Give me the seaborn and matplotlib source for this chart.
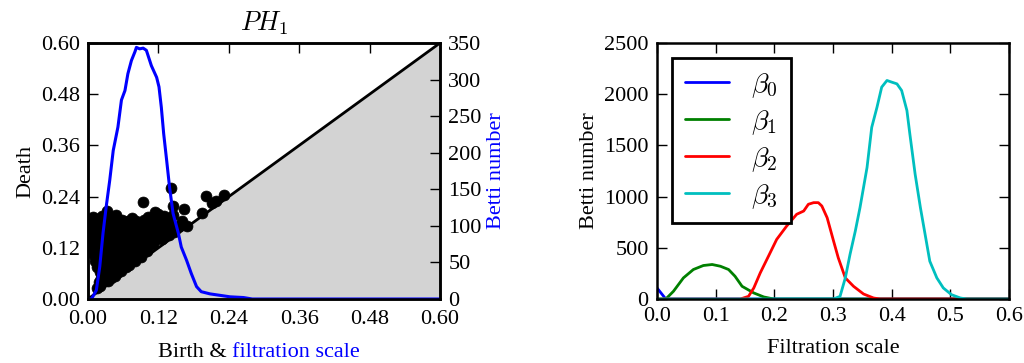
import numpy as np
import pandas as pd
import matplotlib
matplotlib.use("Agg")
import matplotlib.pyplot as plt
import seaborn as sns

# ---------------- data ----------------
# PH1 persistence diagram (birth, death)
births = [0.008, 0.016, 0.024, 0.033, 0.040, 0.048, 0.058, 0.068, 0.075, 0.082, 0.093, 0.095, 0.102, 0.114, 0.108,
          0.004, 0.011, 0.019, 0.028, 0.037, 0.046, 0.055, 0.064, 0.073, 0.087, 0.098, 0.118, 0.126, 0.130, 0.140,
          0.003, 0.010, 0.020, 0.030, 0.041, 0.051, 0.061, 0.070, 0.080, 0.091, 0.101, 0.112, 0.122, 0.134, 0.146, 0.155, 0.161, 0.168,
          0.141, 0.145, 0.145, 0.163, 0.195, 0.2006, 0.211, 0.219, 0.232, 0.130, 0.120,
          0.004, 0.013, 0.023, 0.033, 0.043, 0.053, 0.064, 0.075, 0.086, 0.097, 0.107, 0.118, 0.128, 0.138, 0.147,
          0.005, 0.012, 0.021, 0.030, 0.040, 0.050, 0.060, 0.071, 0.082, 0.093, 0.104, 0.115, 0.126,
          0.006, 0.015, 0.025, 0.035, 0.045, 0.056, 0.066, 0.077, 0.088, 0.099, 0.111,
          0.008, 0.018, 0.028, 0.038, 0.048, 0.058, 0.069, 0.080, 0.091, 0.101,
          0.010, 0.020, 0.030, 0.040, 0.050, 0.060, 0.071, 0.082, 0.090,
          0.012, 0.022, 0.032, 0.042, 0.052, 0.062, 0.072, 0.080,
          0.016, 0.026, 0.036, 0.046, 0.056, 0.065, 0.070,
          0.020, 0.030, 0.040, 0.049, 0.057,
          0.022, 0.031, 0.040, 0.046,
          0.018, 0.028, 0.034,
          0.020, 0.016]
deaths = [0.192, 0.188, 0.195, 0.207, 0.185, 0.198, 0.186, 0.183, 0.190, 0.183, 0.227, 0.186, 0.192, 0.205, 0.180,
          0.178, 0.181, 0.176, 0.182, 0.177, 0.180, 0.175, 0.179, 0.174, 0.178, 0.176, 0.182, 0.178, 0.183, 0.176,
          0.166, 0.163, 0.168, 0.162, 0.167, 0.164, 0.168, 0.163, 0.167, 0.164, 0.168, 0.165, 0.167, 0.163, 0.168, 0.172, 0.183, 0.171,
          0.260, 0.217, 0.197, 0.211, 0.201, 0.242, 0.226, 0.230, 0.243, 0.195, 0.200,
          0.152, 0.150, 0.154, 0.149, 0.153, 0.150, 0.154, 0.150, 0.153, 0.149, 0.152, 0.150, 0.154, 0.150, 0.156,
          0.140, 0.137, 0.141, 0.138, 0.142, 0.137, 0.141, 0.138, 0.142, 0.138, 0.141, 0.138, 0.141,
          0.127, 0.124, 0.128, 0.125, 0.129, 0.125, 0.128, 0.124, 0.128, 0.125, 0.129,
          0.114, 0.116, 0.112, 0.116, 0.113, 0.117, 0.113, 0.116, 0.112, 0.112,
          0.102, 0.099, 0.103, 0.100, 0.104, 0.100, 0.103, 0.099, 0.098,
          0.088, 0.085, 0.089, 0.086, 0.090, 0.086, 0.088, 0.090,
          0.076, 0.073, 0.077, 0.074, 0.077, 0.074, 0.079,
          0.063, 0.060, 0.064, 0.061, 0.066,
          0.050, 0.052, 0.050, 0.055,
          0.040, 0.042, 0.043,
          0.030, 0.026]

# Betti-1 curve (left panel, right axis)
b1_scale = [0.0, 0.006, 0.0142, 0.020, 0.0256, 0.031, 0.037, 0.043, 0.051, 0.057, 0.063, 0.068, 0.074, 0.080, 0.0825,
            0.088, 0.094, 0.0995, 0.108, 0.117, 0.121, 0.125, 0.129, 0.134, 0.139, 0.145, 0.154, 0.159, 0.168,
            0.176, 0.185, 0.193, 0.208, 0.225, 0.242, 0.265, 0.28, 0.6]
b1_count = [0, 0, 12, 44, 90, 126, 162, 203, 235, 272, 285, 308, 326, 338, 344,
            342, 343, 340, 319, 303, 290, 262, 226, 190, 153, 117, 90, 71, 53,
            35, 17, 10, 7, 5, 3, 2, 0, 0]

# Betti curves (right panel)
beta0_x = [0.0, 0.015, 0.6]
beta0_y = [108, 0, 0]
beta1_x = [0.0, 0.015, 0.028, 0.045, 0.062, 0.079, 0.094, 0.108, 0.122, 0.133, 0.145, 0.165, 0.182, 0.199, 0.6]
beta1_y = [0, 0, 75, 206, 288, 327, 337, 320, 288, 222, 124, 59, 20, 0, 0]
beta2_x = [0.0, 0.142, 0.156, 0.165, 0.176, 0.190, 0.204, 0.221, 0.238, 0.250, 0.258, 0.267, 0.275, 0.281,
           0.290, 0.301, 0.309, 0.315, 0.321, 0.335, 0.352, 0.369, 0.380, 0.6]
beta2_y = [0, 0, 26, 108, 255, 418, 582, 712, 827, 859, 925, 941, 941, 908,
           794, 565, 402, 304, 206, 124, 49, 10, 0, 0]
beta3_x = [0.0, 0.301, 0.312, 0.321, 0.329, 0.338, 0.346, 0.358, 0.366, 0.375, 0.383, 0.392, 0.400, 0.409,
           0.417, 0.426, 0.431, 0.440, 0.449, 0.457, 0.465, 0.477, 0.488, 0.502, 0.517, 0.528, 0.6]
beta3_y = [0, 0, 26, 206, 435, 663, 892, 1284, 1676, 1873, 2069, 2134, 2118, 2101,
           2036, 1840, 1611, 1219, 892, 631, 369, 206, 108, 42, 10, 0, 0]
series_labels = [r"$\beta_0$", r"$\beta_1$", r"$\beta_2$", r"$\beta_3$"]
series_colors = ["#0000ff", "#008000", "#ff0000", "#00bfbf"]

left_xticks = [0.0, 0.12, 0.24, 0.36, 0.48, 0.60]
twin_yticks = [0, 50, 100, 150, 200, 250, 300, 350]
right_xticks = [0.0, 0.1, 0.2, 0.3, 0.4, 0.5, 0.6]
right_yticks = [0, 500, 1000, 1500, 2000, 2500]

# ---------------- style ----------------
sns.set_theme(style="ticks")
FS = 16
plt.rcParams.update({
    "font.family": ["Liberation Serif", "DejaVu Serif"],
    "mathtext.fontset": "cm",
    "font.size": FS,
    "axes.linewidth": 1.8,
    "xtick.direction": "in",
    "ytick.direction": "in",
    "xtick.major.size": 7,
    "ytick.major.size": 7,
    "xtick.major.width": 1.0,
    "ytick.major.width": 1.0,
    "xtick.major.pad": 6,
    "ytick.major.pad": 6,
    "xtick.labelsize": FS,
    "ytick.labelsize": FS,
    "axes.edgecolor": "black",
    "axes.labelcolor": "black",
    "text.color": "black",
    "xtick.color": "black",
    "ytick.color": "black",
})

fig = plt.figure(figsize=(10.24, 3.63), dpi=100)
axL = fig.add_axes([88 / 1024, 1 - 299 / 363, 352 / 1024, 256 / 363])
axR = fig.add_axes([657 / 1024, 1 - 299 / 363, 352 / 1024, 256 / 363])

# ---- left panel ----
diag = np.array([0.0, 0.6])
axL.fill_between(diag, 0, diag, color="#d3d3d3", zorder=1, linewidth=0)
axL.plot(diag, diag, color="black", lw=2.0, zorder=2)
sns.scatterplot(x=births, y=deaths, ax=axL, color="black", s=62, edgecolor="black",
                linewidth=0.5, zorder=3, legend=False)
axL.set_xlim(0, 0.6)
axL.set_ylim(0, 0.6)
axL.set_xticks(left_xticks)
axL.set_yticks(left_xticks)
axL.xaxis.set_major_formatter(matplotlib.ticker.FormatStrFormatter("%.2f"))
axL.yaxis.set_major_formatter(matplotlib.ticker.FormatStrFormatter("%.2f"))
axL.tick_params(top=True, right=False)
axL.tick_params(axis="x", pad=8)
axL.set_ylabel("Death", fontsize=FS, labelpad=4)
axL.set_xlabel("")
axL.set_title(r"$PH_1$", fontsize=19, pad=9)
axL.text(0.41, -0.225, "Birth & ", transform=axL.transAxes, ha="right", va="baseline", fontsize=FS, color="black")
axL.text(0.41, -0.225, "filtration scale", transform=axL.transAxes, ha="left", va="baseline", fontsize=FS, color="#0000ff")

axT = axL.twinx()
sns.lineplot(x=b1_scale, y=b1_count, ax=axT, color="#0000ff", lw=2.2, estimator=None, sort=False)
axT.set_ylim(0, 350)
axT.set_xlim(0, 0.6)
axT.set_yticks(twin_yticks)
axT.tick_params(right=True, left=False, direction="in")
axT.set_ylabel("Betti number", color="#0000ff", fontsize=FS, labelpad=4)
for s in axT.spines.values():
    s.set_linewidth(1.8)

# ---- right panel ----
rows = []
for lab, xs, ys in zip(series_labels, [beta0_x, beta1_x, beta2_x, beta3_x],
                       [beta0_y, beta1_y, beta2_y, beta3_y]):
    for xv, yv in zip(xs, ys):
        rows.append({"scale": xv, "count": yv, "series": lab})
df = pd.DataFrame(rows)
sns.lineplot(data=df, x="scale", y="count", hue="series", palette=series_colors,
             ax=axR, lw=2.0, estimator=None, sort=False)
axR.set_xlim(0, 0.6)
axR.set_ylim(0, 2500)
axR.set_xticks(right_xticks)
axR.set_yticks(right_yticks)
axR.xaxis.set_major_formatter(matplotlib.ticker.FormatStrFormatter("%.1f"))
axR.tick_params(top=True, right=True)
axR.set_xlabel("Filtration scale", fontsize=FS, labelpad=9)
axR.set_ylabel("Betti number", fontsize=FS, labelpad=4)
leg = axR.legend(loc="upper left", fontsize=20, frameon=True, fancybox=False, framealpha=1.0,
                 handlelength=1.6, handletextpad=0.8, labelspacing=0.3,
                 borderaxespad=0.55, borderpad=0.45)
leg.get_frame().set_edgecolor("black")
leg.get_frame().set_linewidth(2.0)
for line in leg.get_lines():
    line.set_linewidth(2.0)

fig.savefig("out.png", dpi=100)
